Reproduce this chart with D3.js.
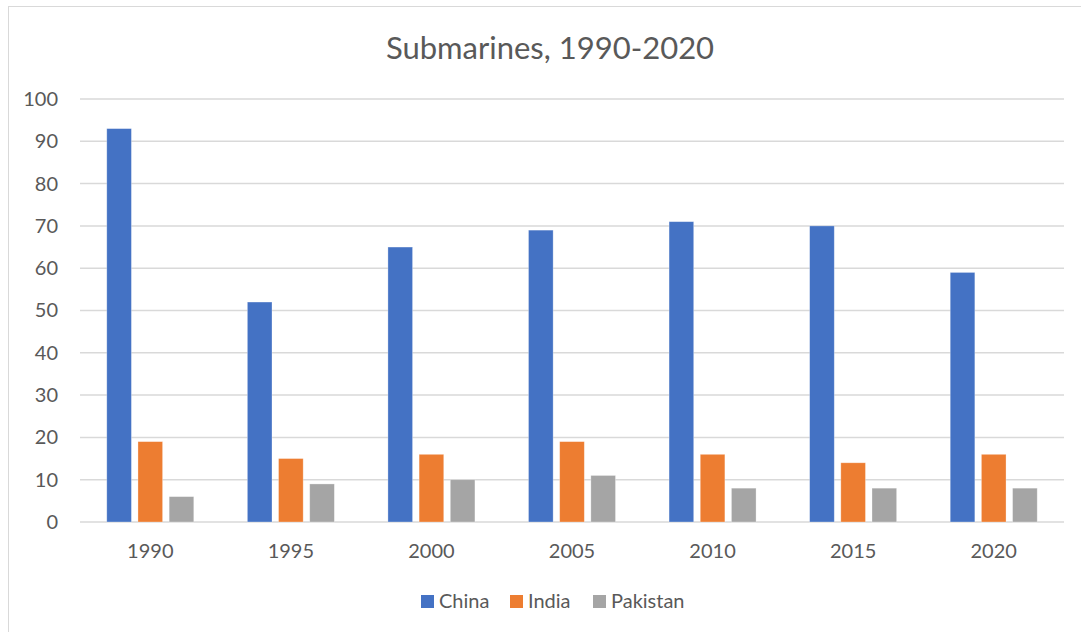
<!DOCTYPE html>
<html>
<head>
<meta charset="utf-8">
<script src="https://cdn.jsdelivr.net/npm/d3@7"></script>
<style>
  body { margin: 0; background: #fff; }
  svg { display: block; }
</style>
</head>
<body>
<div id="chart"></div>
<script>
// Chart data
const years = ["1990", "1995", "2000", "2005", "2010", "2015", "2020"];
const seriesNames = ["China", "India", "Pakistan"];
const china = [93, 52, 65, 69, 71, 70, 59];
const india = [19, 15, 16, 19, 16, 14, 16];
const pakistan = [6, 9, 10, 11, 8, 8, 8];
const yTicks = [0, 10, 20, 30, 40, 50, 60, 70, 80, 90, 100];

const seriesValues = [china, india, pakistan];
const colors = { "China": "#4472C4", "India": "#ED7D31", "Pakistan": "#A5A5A5" };

const width = 1081, height = 632;
const font = "Lato, 'Open Sans', sans-serif";
const textColor = "#595959";

const svg = d3.select("#chart").append("svg")
    .attr("width", width)
    .attr("height", height);

// chart area border
svg.append("rect")
    .attr("x", 8.5).attr("y", 6.5)
    .attr("width", 1090).attr("height", 640)
    .attr("fill", "#fff")
    .attr("stroke", "#d9d9d9")
    .attr("stroke-width", 1);

// title
svg.append("text")
    .attr("x", 550).attr("y", 59)
    .attr("text-anchor", "middle")
    .attr("font-family", font)
    .attr("font-size", "31px")
    .attr("fill", textColor)
    .text("Submarines, 1990-2020");

const plot = { left: 80, right: 1064, top: 99, bottom: 522 };

const x = d3.scaleBand()
    .domain(years)
    .range([plot.left, plot.right]);

const y = d3.scaleLinear()
    .domain([0, 100])
    .range([plot.bottom, plot.top]);

// inner band for the three bars of a group
const groupWidth = 87;
const xInner = d3.scaleBand()
    .domain(seriesNames)
    .range([0, groupWidth])
    .paddingInner(0.21);

// gridlines
svg.append("g")
    .selectAll("line")
    .data(yTicks)
    .join("line")
    .attr("x1", plot.left)
    .attr("x2", plot.right)
    .attr("y1", d => y(d))
    .attr("y2", d => y(d))
    .attr("stroke", "#d9d9d9")
    .attr("stroke-width", 1.5);

// y axis labels
const yAxis = svg.append("g")
    .attr("transform", `translate(${plot.left - 22},0)`)
    .call(d3.axisLeft(y).tickValues(yTicks).tickSize(0).tickPadding(0));
yAxis.select(".domain").remove();
yAxis.selectAll("text")
    .attr("font-family", font)
    .attr("font-size", "20px")
    .attr("fill", textColor);

// x axis labels
const xAxis = svg.append("g")
    .attr("transform", `translate(0,${plot.bottom + 22})`)
    .call(d3.axisBottom(x).tickSize(0).tickPadding(0));
xAxis.select(".domain").remove();
xAxis.selectAll("text")
    .attr("font-family", font)
    .attr("font-size", "20px")
    .attr("fill", textColor);

// bars
const groups = svg.append("g")
    .selectAll("g")
    .data(years)
    .join("g")
    .attr("transform", d => `translate(${x(d) + x.bandwidth() / 2 - groupWidth / 2},0)`);

groups.selectAll("rect")
    .data((d, i) => seriesNames.map((name, s) => ({ name, value: seriesValues[s][i] })))
    .join("rect")
    .attr("x", d => xInner(d.name))
    .attr("y", d => y(d.value))
    .attr("width", xInner.bandwidth())
    .attr("height", d => y(0) - y(d.value))
    .attr("fill", d => colors[d.name])
    .attr("stroke", "#fff")
    .attr("stroke-opacity", 0.4)
    .attr("stroke-width", 0.75);

// legend
const legendItems = [
    { name: "China", x: 421 },
    { name: "India", x: 510 },
    { name: "Pakistan", x: 593 }
];
const legend = svg.append("g");
legend.selectAll("rect")
    .data(legendItems)
    .join("rect")
    .attr("x", d => d.x)
    .attr("y", 595)
    .attr("width", 13)
    .attr("height", 13)
    .attr("fill", d => colors[d.name]);
legend.selectAll("text")
    .data(legendItems)
    .join("text")
    .attr("x", d => d.x + 18)
    .attr("y", 608)
    .attr("font-family", font)
    .attr("font-size", "20px")
    .attr("fill", textColor)
    .text(d => d.name);
</script>
</body>
</html>
